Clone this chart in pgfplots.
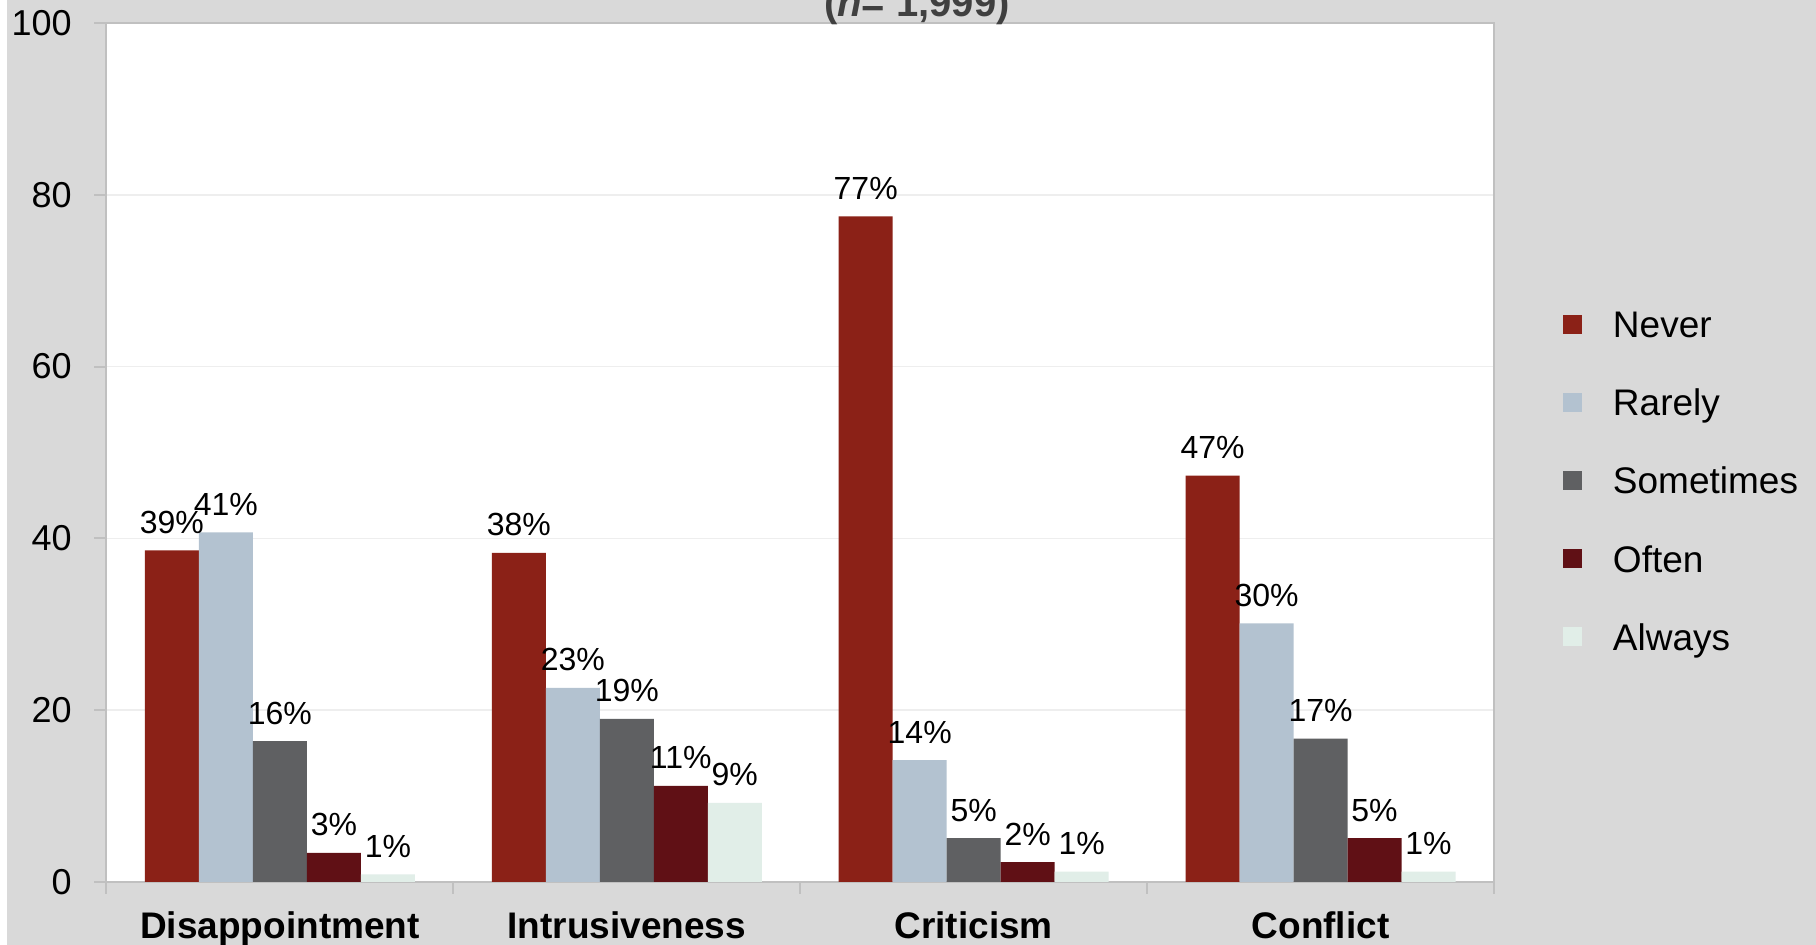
\documentclass[border=0pt]{standalone}
\usepackage{fontspec}
\setmainfont{Liberation Sans}
\usepackage{pgfplots}
\usepackage{pgfplotstable}
\pgfplotsset{compat=1.18}

\definecolor{never}{RGB}{139,33,23}
\definecolor{rarely}{RGB}{179,194,208}
\definecolor{sometimes}{RGB}{95,96,98}
\definecolor{often}{RGB}{96,16,21}
\definecolor{always}{RGB}{225,238,232}
\definecolor{bg}{RGB}{217,217,217}
\definecolor{axisgray}{RGB}{192,192,192}
\definecolor{gridgray}{RGB}{238,238,238}
\definecolor{titlegray}{RGB}{64,64,64}

% values, labels as printed
\pgfplotstableread{
x ne neL ra raL so soL of ofL al alL
0 38.6 39 40.7 41 16.4 16 3.4 3 0.9 1
1 38.3 38 22.6 23 19.0 19 11.2 11 9.2 9
2 77.5 77 14.2 14 5.1 5 2.3 2 1.2 1
3 47.3 47 30.1 30 16.7 17 5.1 5 1.2 1
}\data

\begin{document}
\begin{tikzpicture}
\fill[white] (0,0) rectangle (908pt,472.5pt);
\fill[bg] (3.5pt,0) rectangle (908pt,472.5pt);
\begin{axis}[
    at={(53.25pt,31.5pt)}, anchor=south west,
    scale only axis, width=693.75pt, height=429.5pt,
    axis background/.style={fill=white},
    xmin=-0.5, xmax=3.5, ymin=0, ymax=100,
    ybar=0pt, bar width=27pt,
    xtick={0,1,2,3},
    xticklabels={Disappointment,Intrusiveness,Criticism,Conflict},
    minor xtick={-0.5,0.5,1.5,2.5,3.5},
    ytick={0,20,40,60,80,100},
    tick pos=left, tick align=outside,
    major tick length=6pt, minor tick length=6pt,
    major x tick style={draw=none},
    tick style={axisgray,line width=1pt},
    axis line style={axisgray,line width=1pt},
    ymajorgrids, grid style={gridgray,line width=0.75pt},
    /pgf/number format/assume math mode=true,
    yticklabel style={font=\fontsize{18}{18}\selectfont,anchor=east,inner sep=0pt,xshift=-11.25pt},
    xticklabel style={font=\bfseries\fontsize{18.5}{18.5}\selectfont,anchor=base,inner sep=0pt,yshift=-22.5pt},
    point meta=explicit,
    nodes near coords={\pgfmathprintnumber[fixed,precision=0]{\pgfplotspointmeta}\%},
    every node near coord/.append style={font=\fontsize{16}{16}\selectfont,anchor=base,inner sep=0pt,yshift=8.5pt,text=black},
    every axis plot post/.append style={
        legend image code/.code={\fill[##1,draw=none] (0pt,-2.75pt) rectangle (9.5pt,6.75pt);}},
    legend cell align=left,
    legend style={at={(1.0497,0.6648)}, anchor=north west, draw=none, fill=none,
        inner sep=0pt, outer sep=0pt, row sep=21.9pt, column sep=15.5pt,
        font=\fontsize{18.5}{18.5}\selectfont,
        nodes={inner sep=0pt, text height=13.3pt, text depth=3.9pt}},
]
\addplot[fill=never,draw=none] table[x=x,y=ne,meta=neL] {\data};
\addplot[fill=rarely,draw=none] table[x=x,y=ra,meta=raL] {\data};
\addplot[fill=sometimes,draw=none] table[x=x,y=so,meta=soL] {\data};
\addplot[fill=often,draw=none] table[x=x,y=of,meta=ofL] {\data};
\addplot[fill=always,draw=none] table[x=x,y=al,meta=alL] {\data};
\legend{Never,Rarely,Sometimes,Often,Always}
\end{axis}
\node[anchor=base,text=titlegray,font=\bfseries\fontsize{20}{20}\selectfont]
    at (458.5pt,464pt) {(\textit{n}= 1,999)};
\pgfresetboundingbox
\useasboundingbox (0,0) rectangle (908pt,472.5pt);
\end{tikzpicture}
\end{document}
